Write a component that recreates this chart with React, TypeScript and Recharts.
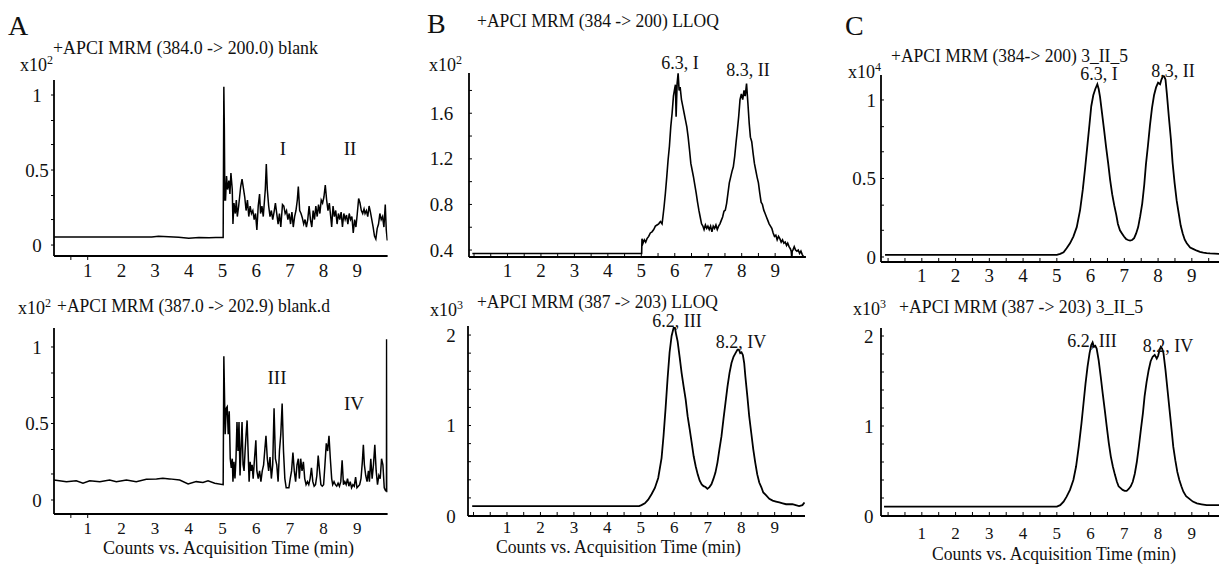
import React from "react";
import { LineChart, Line, XAxis, YAxis } from "recharts";

type Pt = [number, number];

const FONT = "'Liberation Serif', 'Times New Roman', serif";

// ---- x ticks / labels ----
const xLabels = [1, 2, 3, 4, 5, 6, 7, 8, 9];
const halfTicks = [0, 0.5, 1, 1.5, 2, 2.5, 3, 3.5, 4, 4.5, 5, 5.5, 6, 6.5, 7, 7.5, 8, 8.5, 9, 9.5];
const aTickMarks = [0.5, 1];

// ---- y ticks ----
const aYMajor = [0, 0.5, 1];
const aYMinor = [0.17, 0.33, 0.67, 0.83];
const b1YMajor = [0.4, 0.8, 1.2, 1.6];
const b1YMinor = [0.6, 1.0, 1.4, 1.8];
const k2YMajor = [0, 1, 2];
const k2YMinor = [0.2, 0.4, 0.6, 0.8, 1.2, 1.4, 1.6, 1.8];

// ---- traces [time(min), counts] ----
const a1Trace: Pt[] = [
  [0, 0.053], [2.9, 0.053], [3.1, 0.058], [3.4, 0.055], [3.7, 0.052], [4.0, 0.046], [4.3, 0.05], [4.6, 0.048], [4.8, 0.05], [5.02, 0.05],
  [5.04, 1.055], [5.055, 0.78], [5.07, 0.3], [5.09, 0.3], [5.12, 0.46], [5.15, 0.37], [5.19, 0.43], [5.22, 0.34], [5.25, 0.48], [5.29, 0.37],
  [5.31, 0.14], [5.34, 0.28], [5.38, 0.21], [5.41, 0.3], [5.44, 0.19], [5.48, 0.26], [5.54, 0.39], [5.58, 0.44], [5.62, 0.38], [5.66, 0.32],
  [5.7, 0.23], [5.74, 0.3], [5.78, 0.19], [5.82, 0.26], [5.86, 0.21], [5.9, 0.23], [5.94, 0.17], [5.98, 0.21], [6.02, 0.1], [6.06, 0.26],
  [6.1, 0.34], [6.13, 0.21], [6.17, 0.26], [6.21, 0.19], [6.25, 0.31], [6.27, 0.37], [6.3, 0.54], [6.33, 0.37], [6.37, 0.26], [6.41, 0.19],
  [6.45, 0.23], [6.49, 0.17], [6.53, 0.22], [6.57, 0.28], [6.61, 0.21], [6.65, 0.14], [6.69, 0.21], [6.73, 0.12], [6.78, 0.27], [6.82, 0.26],
  [6.86, 0.21], [6.9, 0.23], [6.94, 0.17], [6.98, 0.21], [7.02, 0.14], [7.06, 0.22], [7.1, 0.12], [7.14, 0.19], [7.18, 0.23], [7.22, 0.3],
  [7.25, 0.39], [7.29, 0.23], [7.33, 0.21], [7.37, 0.18], [7.41, 0.14], [7.45, 0.17], [7.49, 0.12], [7.53, 0.17], [7.57, 0.26], [7.61, 0.17],
  [7.65, 0.12], [7.69, 0.23], [7.73, 0.17], [7.77, 0.26], [7.81, 0.19], [7.85, 0.27], [7.89, 0.21], [7.93, 0.3], [7.97, 0.28], [8.01, 0.32],
  [8.05, 0.4], [8.09, 0.3], [8.13, 0.23], [8.17, 0.28], [8.21, 0.19], [8.24, 0.12], [8.28, 0.26], [8.32, 0.19], [8.36, 0.23], [8.4, 0.14],
  [8.44, 0.21], [8.48, 0.17], [8.52, 0.22], [8.56, 0.12], [8.6, 0.21], [8.64, 0.17], [8.68, 0.2], [8.72, 0.14], [8.76, 0.21], [8.8, 0.17],
  [8.84, 0.19], [8.88, 0.08], [8.92, 0.17], [8.96, 0.12], [9.0, 0.21], [9.04, 0.31], [9.08, 0.28], [9.12, 0.23], [9.16, 0.21], [9.2, 0.24],
  [9.23, 0.21], [9.27, 0.23], [9.31, 0.19], [9.35, 0.26], [9.39, 0.22], [9.43, 0.17], [9.47, 0.12], [9.51, 0.06], [9.55, 0.04], [9.59, 0.11],
  [9.63, 0.14], [9.67, 0.21], [9.71, 0.17], [9.75, 0.19], [9.79, 0.12], [9.83, 0.27], [9.86, 0.1], [9.89, 0.03],
];

const a2Trace: Pt[] = [
  [0, 0.13], [0.37, 0.12], [0.66, 0.125], [0.86, 0.11], [1.06, 0.125], [1.36, 0.12], [1.65, 0.13], [1.85, 0.12], [2.15, 0.13], [2.44, 0.12],
  [2.74, 0.135], [3.04, 0.138], [3.23, 0.142], [3.43, 0.138], [3.73, 0.13], [3.98, 0.105], [4.22, 0.12], [4.42, 0.115], [4.57, 0.125], [4.77, 0.11],
  [5.02, 0.1], [5.04, 0.94], [5.08, 0.43], [5.11, 0.6], [5.14, 0.61], [5.17, 0.43], [5.2, 0.58], [5.23, 0.27], [5.26, 0.21], [5.29, 0.27],
  [5.31, 0.12], [5.34, 0.25], [5.37, 0.14], [5.4, 0.27], [5.43, 0.51], [5.46, 0.32], [5.49, 0.51], [5.52, 0.16], [5.55, 0.34], [5.58, 0.51],
  [5.61, 0.23], [5.64, 0.19], [5.67, 0.32], [5.7, 0.43], [5.73, 0.52], [5.76, 0.32], [5.79, 0.12], [5.82, 0.25], [5.85, 0.19], [5.88, 0.23],
  [5.91, 0.14], [5.95, 0.27], [5.99, 0.39], [6.02, 0.19], [6.06, 0.14], [6.1, 0.19], [6.14, 0.12], [6.18, 0.19], [6.22, 0.23], [6.26, 0.34],
  [6.29, 0.42], [6.33, 0.27], [6.37, 0.19], [6.41, 0.28], [6.45, 0.14], [6.49, 0.23], [6.53, 0.6], [6.57, 0.27], [6.61, 0.23], [6.65, 0.12],
  [6.69, 0.32], [6.73, 0.43], [6.77, 0.63], [6.81, 0.32], [6.85, 0.14], [6.89, 0.08], [6.93, 0.08], [6.97, 0.08], [7.01, 0.14], [7.05, 0.19],
  [7.09, 0.31], [7.13, 0.19], [7.17, 0.12], [7.21, 0.23], [7.25, 0.27], [7.28, 0.14], [7.32, 0.27], [7.36, 0.19], [7.4, 0.25], [7.44, 0.14],
  [7.48, 0.1], [7.52, 0.12], [7.56, 0.1], [7.6, 0.14], [7.64, 0.21], [7.68, 0.12], [7.72, 0.09], [7.76, 0.1], [7.8, 0.16], [7.84, 0.29],
  [7.88, 0.19], [7.92, 0.1], [7.96, 0.09], [8.0, 0.1], [8.04, 0.23], [8.08, 0.37], [8.12, 0.32], [8.16, 0.42], [8.2, 0.27], [8.24, 0.14],
  [8.27, 0.1], [8.31, 0.12], [8.35, 0.1], [8.39, 0.09], [8.43, 0.11], [8.47, 0.09], [8.51, 0.12], [8.55, 0.26], [8.59, 0.1], [8.63, 0.12],
  [8.67, 0.1], [8.71, 0.14], [8.75, 0.09], [8.79, 0.12], [8.83, 0.08], [8.87, 0.1], [8.91, 0.09], [8.95, 0.15], [8.99, 0.08], [9.03, 0.09],
  [9.07, 0.1], [9.11, 0.14], [9.15, 0.25], [9.18, 0.36], [9.21, 0.23], [9.25, 0.16], [9.29, 0.12], [9.33, 0.19], [9.36, 0.12], [9.4, 0.27],
  [9.44, 0.14], [9.48, 0.23], [9.52, 0.36], [9.56, 0.19], [9.6, 0.1], [9.64, 0.16], [9.68, 0.14], [9.72, 0.27], [9.76, 0.23], [9.8, 0.08],
  [9.84, 0.06], [9.865, 0.06], [9.87, 1.05], [9.88, 0.05],
];

const b1Trace: Pt[] = [
  [-0.05, 0.37], [5.01, 0.37], [5.02, 0.5], [5.05, 0.46], [5.09, 0.49], [5.13, 0.47], [5.17, 0.5], [5.22, 0.52], [5.27, 0.55], [5.32, 0.56],
  [5.37, 0.58], [5.42, 0.61], [5.47, 0.62], [5.52, 0.63], [5.57, 0.65], [5.62, 0.63], [5.645, 0.69], [5.68, 0.78], [5.72, 0.9], [5.76, 1.04],
  [5.8, 1.19], [5.84, 1.31], [5.88, 1.48], [5.92, 1.6], [5.96, 1.75], [6.0, 1.82], [6.02, 1.85], [6.04, 1.57], [6.07, 1.86], [6.1, 1.95],
  [6.13, 1.8], [6.16, 1.83], [6.2, 1.72], [6.24, 1.66], [6.28, 1.6], [6.32, 1.54], [6.36, 1.48], [6.4, 1.39], [6.44, 1.28], [6.48, 1.16],
  [6.52, 1.1], [6.56, 1.04], [6.6, 0.97], [6.64, 0.9], [6.68, 0.82], [6.72, 0.75], [6.76, 0.69], [6.8, 0.63], [6.84, 0.61], [6.875, 0.58],
  [6.915, 0.62], [6.955, 0.59], [6.99, 0.61], [7.03, 0.58], [7.07, 0.61], [7.11, 0.56], [7.15, 0.61], [7.19, 0.59], [7.23, 0.62], [7.27, 0.58],
  [7.31, 0.61], [7.35, 0.63], [7.39, 0.66], [7.43, 0.69], [7.47, 0.74], [7.51, 0.75], [7.55, 0.81], [7.59, 0.9], [7.63, 0.99], [7.67, 1.04],
  [7.71, 1.09], [7.75, 1.13], [7.79, 1.22], [7.83, 1.34], [7.87, 1.45], [7.91, 1.57], [7.95, 1.72], [7.99, 1.77], [8.03, 1.72], [8.07, 1.8],
  [8.105, 1.75], [8.145, 1.86], [8.185, 1.69], [8.225, 1.51], [8.26, 1.39], [8.3, 1.35], [8.34, 1.25], [8.38, 1.16], [8.42, 1.1], [8.46, 1.04],
  [8.5, 0.99], [8.54, 0.9], [8.58, 0.82], [8.62, 0.8], [8.66, 0.75], [8.7, 0.72], [8.74, 0.69], [8.78, 0.66], [8.82, 0.63], [8.86, 0.61],
  [8.9, 0.59], [8.94, 0.55], [8.98, 0.52], [9.02, 0.53], [9.06, 0.49], [9.1, 0.52], [9.14, 0.5], [9.18, 0.47], [9.22, 0.49], [9.26, 0.46],
  [9.3, 0.47], [9.34, 0.44], [9.375, 0.46], [9.415, 0.43], [9.455, 0.41], [9.48, 0.39], [9.495, 0.34], [9.51, 0.39], [9.53, 0.4], [9.57, 0.43],
  [9.61, 0.4], [9.65, 0.39], [9.69, 0.4], [9.73, 0.37], [9.77, 0.39], [9.81, 0.36], [9.85, 0.34], [9.89, 0.31],
];

const b2Trace: Pt[] = [
  [-0.04, 0.11], [4.95, 0.11], [5.02, 0.12], [5.12, 0.14], [5.22, 0.18], [5.32, 0.24], [5.42, 0.31], [5.52, 0.42], [5.62, 0.64], [5.68, 0.89],
  [5.74, 1.19], [5.8, 1.52], [5.86, 1.81], [5.92, 1.99], [5.98, 2.08], [6.02, 2.08], [6.06, 2.0], [6.1, 1.93], [6.16, 1.76], [6.22, 1.58],
  [6.28, 1.43], [6.34, 1.29], [6.4, 1.1], [6.46, 0.96], [6.52, 0.81], [6.58, 0.66], [6.64, 0.55], [6.7, 0.46], [6.76, 0.39], [6.82, 0.35],
  [6.875, 0.33], [6.935, 0.32], [6.99, 0.3], [7.05, 0.32], [7.11, 0.35], [7.17, 0.41], [7.23, 0.48], [7.29, 0.59], [7.35, 0.74], [7.41, 0.88],
  [7.47, 1.07], [7.53, 1.25], [7.59, 1.43], [7.65, 1.58], [7.71, 1.69], [7.77, 1.76], [7.83, 1.8], [7.89, 1.84], [7.93, 1.84], [7.97, 1.8],
  [8.01, 1.81], [8.05, 1.78], [8.09, 1.69], [8.125, 1.54], [8.185, 1.32], [8.24, 1.1], [8.3, 0.92], [8.36, 0.74], [8.42, 0.59], [8.48, 0.46],
  [8.54, 0.37], [8.6, 0.32], [8.66, 0.26], [8.74, 0.23], [8.84, 0.19], [8.94, 0.17], [9.04, 0.16], [9.14, 0.15], [9.24, 0.14], [9.34, 0.13],
  [9.43, 0.13], [9.53, 0.13], [9.63, 0.12], [9.73, 0.11], [9.83, 0.12], [9.89, 0.15],
];

const c1Trace: Pt[] = [
  [-0.09, 0.013], [5.0, 0.013], [5.1, 0.02], [5.2, 0.03], [5.29, 0.055], [5.39, 0.087], [5.49, 0.13], [5.59, 0.19], [5.69, 0.3], [5.77, 0.43],
  [5.84, 0.57], [5.91, 0.72], [5.97, 0.85], [6.02, 0.96], [6.08, 1.03], [6.14, 1.07], [6.2, 1.1], [6.24, 1.07], [6.28, 1.02], [6.34, 0.915],
  [6.4, 0.81], [6.46, 0.7], [6.52, 0.6], [6.58, 0.49], [6.64, 0.4], [6.7, 0.33], [6.76, 0.27], [6.81, 0.21], [6.87, 0.17], [6.93, 0.15],
  [6.99, 0.13], [7.05, 0.115], [7.11, 0.108], [7.17, 0.104], [7.23, 0.108], [7.29, 0.12], [7.35, 0.15], [7.41, 0.19], [7.47, 0.26], [7.53, 0.34],
  [7.59, 0.46], [7.64, 0.59], [7.7, 0.71], [7.76, 0.84], [7.82, 0.95], [7.88, 1.03], [7.94, 1.08], [8.0, 1.11], [8.06, 1.1], [8.1, 1.13],
  [8.14, 1.15], [8.18, 1.15], [8.22, 1.13], [8.26, 1.04], [8.32, 0.89], [8.38, 0.75], [8.43, 0.6], [8.49, 0.47], [8.55, 0.36], [8.61, 0.28],
  [8.67, 0.2], [8.73, 0.15], [8.79, 0.11], [8.85, 0.087], [8.95, 0.06], [9.05, 0.05], [9.15, 0.04], [9.24, 0.032], [9.34, 0.028], [9.44, 0.025],
  [9.54, 0.023], [9.81, 0.02], [9.92, 0.02],
];

const c2Trace: Pt[] = [
  [-0.12, 0.104], [5.0, 0.104], [5.1, 0.12], [5.2, 0.16], [5.29, 0.215], [5.39, 0.29], [5.49, 0.4], [5.57, 0.55], [5.65, 0.77], [5.73, 1.03],
  [5.79, 1.25], [5.85, 1.47], [5.91, 1.66], [5.97, 1.81], [6.02, 1.9], [6.06, 1.93], [6.1, 1.88], [6.14, 1.89], [6.18, 1.86], [6.24, 1.73],
  [6.3, 1.55], [6.36, 1.36], [6.42, 1.18], [6.48, 0.99], [6.54, 0.81], [6.6, 0.66], [6.66, 0.55], [6.72, 0.46], [6.78, 0.38], [6.83, 0.33],
  [6.89, 0.31], [6.95, 0.29], [7.01, 0.28], [7.07, 0.28], [7.13, 0.3], [7.19, 0.33], [7.25, 0.38], [7.31, 0.47], [7.37, 0.6], [7.43, 0.77],
  [7.49, 0.96], [7.55, 1.14], [7.6, 1.33], [7.66, 1.49], [7.72, 1.62], [7.78, 1.72], [7.84, 1.77], [7.9, 1.79], [7.96, 1.75], [8.0, 1.78],
  [8.04, 1.84], [8.08, 1.88], [8.12, 1.86], [8.16, 1.81], [8.22, 1.62], [8.28, 1.4], [8.34, 1.18], [8.4, 0.96], [8.45, 0.77], [8.51, 0.62],
  [8.57, 0.49], [8.63, 0.4], [8.69, 0.33], [8.75, 0.27], [8.83, 0.22], [8.93, 0.19], [9.03, 0.16], [9.15, 0.14], [9.29, 0.13], [9.44, 0.12],
  [9.64, 0.12], [9.81, 0.12], [9.92, 0.12],
];

type Cfg = {
  trace: Pt[];
  yAxisX: number;
  plotTop: number;
  xAxisY: number;
  xDomain: [number, number];
  pxPerMin: number;
  yDomain: [number, number];
  yMajor: number[];
  yMinor: number[];
  yAnchor: "middle" | "end";
  yDx: number;
  yTickDir: number;
  xTickMarks: number[];
  xTickDir: number;
  xLabelDy: number;
  xLabelFs: number;
  stroke: number;
};

const panels: Cfg[] = [
  { trace: a1Trace, yAxisX: 54, plotTop: 80, xAxisY: 256, xDomain: [0, 9.9], pxPerMin: 33.7, yDomain: [-0.073, 1.1], yMajor: aYMajor, yMinor: aYMinor, yAnchor: "middle", yDx: -17, yTickDir: -1, xTickMarks: aTickMarks, xTickDir: 1, xLabelDy: 21, xLabelFs: 19, stroke: 1.5 },
  { trace: a2Trace, yAxisX: 54, plotTop: 328, xAxisY: 514, xDomain: [0, 9.9], pxPerMin: 33.7, yDomain: [-0.0915, 1.124], yMajor: aYMajor, yMinor: aYMinor, yAnchor: "middle", yDx: -17, yTickDir: -1, xTickMarks: aTickMarks, xTickDir: 1, xLabelDy: 20, xLabelFs: 17, stroke: 1.5 },
  { trace: b1Trace, yAxisX: 469, plotTop: 73, xAxisY: 257, xDomain: [-0.15, 9.92], pxPerMin: 33.46, yDomain: [0.339, 1.953], yMajor: b1YMajor, yMinor: b1YMinor, yAnchor: "middle", yDx: -27.5, yTickDir: 1, xTickMarks: halfTicks, xTickDir: -1, xLabelDy: 20, xLabelFs: 19, stroke: 1.6 },
  { trace: b2Trace, yAxisX: 468, plotTop: 326, xAxisY: 516, xDomain: [-0.165, 9.92], pxPerMin: 33.46, yDomain: [0, 2.1], yMajor: k2YMajor, yMinor: k2YMinor, yAnchor: "middle", yDx: -17, yTickDir: 1, xTickMarks: halfTicks, xTickDir: -1, xLabelDy: 17, xLabelFs: 17, stroke: 1.8 },
  { trace: c1Trace, yAxisX: 881, plotTop: 75, xAxisY: 262, xDomain: [-0.21, 9.95], pxPerMin: 33.75, yDomain: [-0.032, 1.159], yMajor: aYMajor, yMinor: aYMinor, yAnchor: "end", yDx: -5, yTickDir: 1, xTickMarks: halfTicks, xTickDir: -1, xLabelDy: 20, xLabelFs: 19, stroke: 1.8 },
  { trace: c2Trace, yAxisX: 881, plotTop: 328, xAxisY: 516, xDomain: [-0.21, 9.95], pxPerMin: 33.75, yDomain: [0, 2.089], yMajor: k2YMajor, yMinor: k2YMinor, yAnchor: "end", yDx: -7.5, yTickDir: 1, xTickMarks: halfTicks, xTickDir: -1, xLabelDy: 23, xLabelFs: 17, stroke: 1.8 },
];

const YW = 48;
const XH = 34;
const MT = 14;
const TICK_FS = 19;

function Panel({ cfg }: { cfg: Cfg }) {
  const plotW = (cfg.xDomain[1] - cfg.xDomain[0]) * cfg.pxPerMin;
  const plotH = cfg.xAxisY - cfg.plotTop;
  const data = cfg.trace.map(([t, v]) => ({ t, v }));
  const xTicks = Array.from(new Set([...cfg.xTickMarks, ...xLabels])).sort((a, b) => a - b);
  const yTicks = [...cfg.yMajor, ...cfg.yMinor].sort((a, b) => a - b);

  const xTick = (props: any) => {
    const { x, y, payload } = props;
    const v = payload.value as number;
    return (
      <g>
        {cfg.xTickMarks.includes(v) && (
          <line x1={x} x2={x} y1={y} y2={y + cfg.xTickDir * 4} stroke="#000" strokeWidth={1} />
        )}
        {xLabels.includes(v) && (
          <text x={x} y={y + cfg.xLabelDy} textAnchor="middle" fontSize={cfg.xLabelFs} fontFamily={FONT} fill="#111">
            {v}
          </text>
        )}
      </g>
    );
  };

  const yTick = (props: any) => {
    const { x, y, payload } = props;
    const v = payload.value as number;
    const major = cfg.yMajor.includes(v);
    return (
      <g>
        <line x1={x} x2={x + cfg.yTickDir * 3} y1={y} y2={y} stroke="#000" strokeWidth={1} />
        {major && (
          <text x={x + cfg.yDx} y={y} dy="0.35em" textAnchor={cfg.yAnchor} fontSize={TICK_FS} fontFamily={FONT} fill="#111">
            {String(v)}
          </text>
        )}
      </g>
    );
  };

  return (
    <div style={{ position: "absolute", left: cfg.yAxisX - YW, top: cfg.plotTop - MT }}>
      <LineChart width={YW + plotW} height={MT + plotH + XH} data={data} margin={{ top: MT, right: 0, bottom: 0, left: 0 }}>
        <XAxis
          dataKey="t"
          type="number"
          domain={cfg.xDomain}
          allowDataOverflow
          ticks={xTicks}
          interval={0}
          tickSize={0}
          tickMargin={0}
          tickLine={false}
          height={XH}
          axisLine={{ stroke: "#000", strokeWidth: 2 }}
          tick={xTick}
        />
        <YAxis
          type="number"
          domain={cfg.yDomain}
          allowDataOverflow
          ticks={yTicks}
          interval={0}
          tickSize={0}
          tickMargin={0}
          tickLine={false}
          width={YW}
          axisLine={{ stroke: "#000", strokeWidth: 1.8 }}
          tick={yTick}
        />
        <Line type="linear" dataKey="v" stroke="#000" strokeWidth={cfg.stroke} dot={false} isAnimationActive={false} />
      </LineChart>
    </div>
  );
}

const T = { fontFamily: FONT, fill: "#111" } as const;

function Exp({ x, y, p }: { x: number; y: number; p: string }) {
  return (
    <text x={x} y={y} fontSize={18} {...T}>
      x10
      <tspan dy={-7} fontSize={12}>
        {p}
      </tspan>
    </text>
  );
}

export default function App() {
  const axisTitle = "Counts vs. Acquisition Time (min)";
  return (
    <div style={{ position: "absolute", left: 0, top: 0, width: 1219, height: 564, overflow: "hidden", background: "#fff" }}>
      {panels.map((p, i) => (
        <Panel key={i} cfg={p} />
      ))}
      <svg width={1219} height={564} style={{ position: "absolute", left: 0, top: 0, pointerEvents: "none" }}>
        {/* panel letters */}
        <text x={8} y={35} fontSize={28} {...T}>A</text>
        <text x={427} y={33} fontSize={28} {...T}>B</text>
        <text x={845} y={35} fontSize={28} {...T}>C</text>

        {/* titles */}
        <text x={53} y={54} fontSize={19} textLength={265} lengthAdjust="spacingAndGlyphs" {...T}>+APCI MRM (384.0 -&gt; 200.0) blank</text>
        <text x={57} y={312} fontSize={19} textLength={273} lengthAdjust="spacingAndGlyphs" {...T}>+APCI MRM (387.0 -&gt; 202.9) blank.d</text>
        <text x={477} y={27} fontSize={19} textLength={242} lengthAdjust="spacingAndGlyphs" {...T}>+APCI MRM (384 -&gt; 200) LLOQ</text>
        <text x={477} y={308} fontSize={19} textLength={241} lengthAdjust="spacingAndGlyphs" {...T}>+APCI MRM (387 -&gt; 203) LLOQ</text>
        <text x={891} y={62} fontSize={19} textLength={237} lengthAdjust="spacingAndGlyphs" {...T}>+APCI MRM (384-&gt; 200) 3_II_5</text>
        <text x={899} y={313} fontSize={19} textLength={244} lengthAdjust="spacingAndGlyphs" {...T}>+APCI MRM (387 -&gt; 203) 3_II_5</text>

        {/* exponents */}
        <Exp x={20} y={71} p="2" />
        <Exp x={18} y={314} p="2" />
        <Exp x={429} y={71} p="2" />
        <Exp x={430} y={316} p="3" />
        <Exp x={848} y={78} p="4" />
        <Exp x={853} y={315} p="3" />

        {/* peak labels */}
        <text x={283} y={155} fontSize={19} textAnchor="middle" {...T}>I</text>
        <text x={350} y={155} fontSize={19} textAnchor="middle" {...T}>II</text>
        <text x={277} y={384} fontSize={19} textAnchor="middle" {...T}>III</text>
        <text x={354} y={410} fontSize={19} textAnchor="middle" {...T}>IV</text>
        <text x={680} y={69} fontSize={18} textAnchor="middle" {...T}>6.3, I</text>
        <text x={748} y={76} fontSize={18} textAnchor="middle" {...T}>8.3, II</text>
        <text x={677} y={327} fontSize={18} textAnchor="middle" {...T}>6.2, III</text>
        <text x={741} y={348} fontSize={18} textAnchor="middle" {...T}>8.2, IV</text>
        <text x={1099} y={80} fontSize={18} textAnchor="middle" {...T}>6.3, I</text>
        <text x={1173} y={77} fontSize={18} textAnchor="middle" {...T}>8.3, II</text>
        <text x={1092} y={347} fontSize={18} textAnchor="middle" {...T}>6.2, III</text>
        <text x={1168} y={352} fontSize={18} textAnchor="middle" {...T}>8.2, IV</text>

        {/* axis titles */}
        <text x={103} y={554} fontSize={18} textLength={251} lengthAdjust="spacingAndGlyphs" {...T}>{axisTitle}</text>
        <text x={496} y={553} fontSize={18} textLength={245} lengthAdjust="spacingAndGlyphs" {...T}>{axisTitle}</text>
        <text x={932} y={560} fontSize={18} textLength={244} lengthAdjust="spacingAndGlyphs" {...T}>{axisTitle}</text>
      </svg>
    </div>
  );
}
